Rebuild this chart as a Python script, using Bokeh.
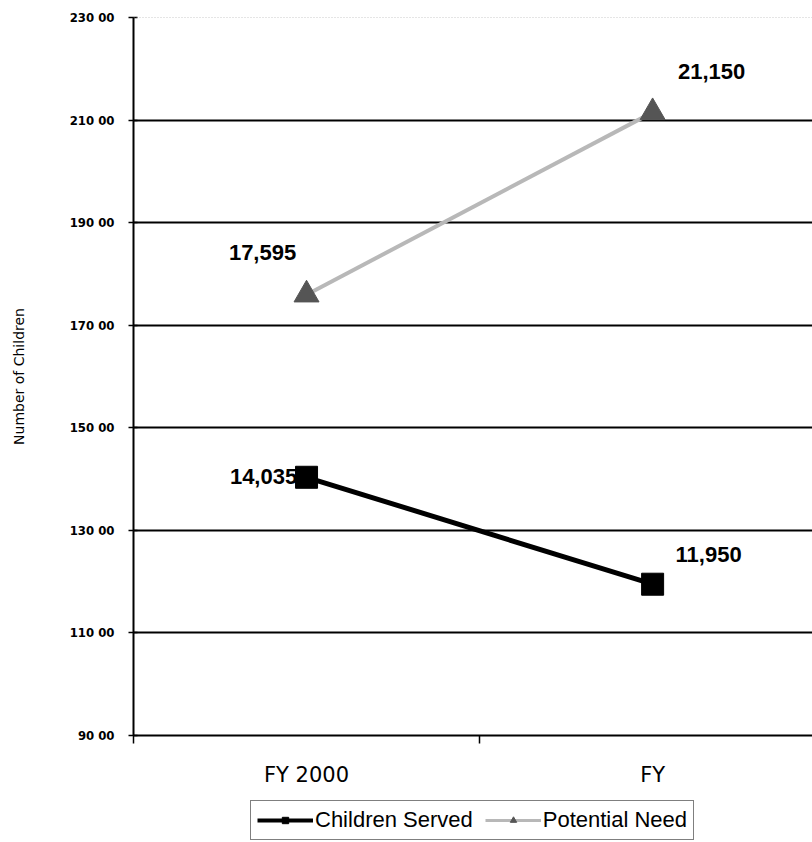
from bokeh.plotting import figure
from bokeh.models import Range1d, FixedTicker, Legend, LegendItem, ColumnDataSource, Span
from bokeh.layouts import column
from bokeh.embed import file_html
from bokeh.resources import INLINE
from bokeh.core.properties import value

# ---- data ----
categories = ["FY 2000", "FY"]
series_names = ["Children Served", "Potential Need"]
children_served = [14035, 11950]
potential_need = [17595, 21150]
children_labels = ["14,035", "11,950"]
need_labels = ["17,595", "21,150"]
y_ticks = [9000, 11000, 13000, 15000, 17000, 19000, 21000, 23000]
y_tick_labels = ["90 00", "110 00", "130 00", "150 00", "170 00", "190 00", "210 00", "230 00"]

x_pos = [i + 0.5 for i in range(len(categories))]

NARROW = "'Liberation Sans Narrow', 'DejaVu Sans Condensed', 'Liberation Sans', sans-serif"

p = figure(width=812, height=790, output_backend="svg", toolbar_location=None,
           x_range=Range1d(0, 1.962), y_range=Range1d(9000, 23000),
           min_border_left=133, min_border_right=0, min_border_top=17, min_border_bottom=55)
p.background_fill_color = "white"
p.border_fill_color = "white"
p.outline_line_color = None

# grid
p.xgrid.visible = False
p.ygrid.ticker = FixedTicker(ticks=y_ticks[1:-1])
p.ygrid.grid_line_color = "black"
p.ygrid.grid_line_width = 2
p.add_layout(Span(location=y_ticks[-1], dimension="width", line_color="#999999",
                  line_dash="1 2", line_width=1))

# y axis
p.yaxis.ticker = FixedTicker(ticks=y_ticks)
p.yaxis.major_label_overrides = {t: l for t, l in zip(y_ticks, y_tick_labels)}
p.yaxis.major_tick_in = 4
p.yaxis.major_tick_out = 5
p.yaxis.minor_tick_line_color = None
p.yaxis.axis_line_color = "black"
p.yaxis.axis_line_width = 2
p.yaxis.major_tick_line_width = 1.5
p.yaxis.major_label_text_font = NARROW
p.yaxis.major_label_text_font_size = "13px"
p.yaxis.major_label_text_font_style = "bold"
p.yaxis.major_label_text_color = "black"
p.yaxis.major_label_standoff = 14
p.yaxis.axis_label = "Number of Children"
p.yaxis.axis_label_text_font = "'DejaVu Sans', sans-serif"
p.yaxis.axis_label_text_font_size = "14px"
p.yaxis.axis_label_text_font_style = "normal"
p.yaxis.axis_label_text_color = "black"
p.yaxis.axis_label_standoff = 40

# x axis
p.xaxis.ticker = FixedTicker(ticks=x_pos, minor_ticks=[0, 1, 2])
p.xaxis.major_label_overrides = {x: c for x, c in zip(x_pos, categories)}
p.xaxis.major_tick_in = 0
p.xaxis.major_tick_out = 0
p.xaxis.minor_tick_in = 0
p.xaxis.minor_tick_out = 8
p.xaxis.minor_tick_line_color = "black"
p.xaxis.minor_tick_line_width = 1.5
p.xaxis.axis_line_color = "black"
p.xaxis.axis_line_width = 2
p.xaxis.major_label_text_font = "'DejaVu Sans', sans-serif"
p.xaxis.major_label_text_font_size = "21px"
p.xaxis.major_label_text_color = "black"
p.xaxis.major_label_standoff = 19

# data labels (drawn under the markers, as in the original)
src_c = ColumnDataSource(dict(x=x_pos, y=children_served, t=children_labels,
                              dx=[-43, 56], dy=[-1, -30]))
src_n = ColumnDataSource(dict(x=x_pos, y=potential_need, t=need_labels,
                              dx=[-44, 59], dy=[-42, -41]))
for src in (src_c, src_n):
    p.text(x="x", y="y", text="t", x_offset="dx", y_offset="dy", source=src,
           text_font=value("Liberation Sans"), text_font_style="bold",
           text_font_size="22px", text_color="black",
           text_align="center", text_baseline="middle")

# series
CS_COLOR, PN_LINE, PN_MARK = "black", "#b8b8b8", "#555555"
p.line(x_pos, children_served, line_color=CS_COLOR, line_width=5)
p.scatter(x_pos, children_served, marker="square", size=22,
          fill_color=CS_COLOR, line_color=CS_COLOR)
p.line(x_pos, potential_need, line_color=PN_LINE, line_width=4)
p.scatter(x_pos, potential_need, marker="triangle", size=25,
          fill_color=PN_MARK, line_color=PN_MARK)

# ---- legend strip below the chart (its renderers' data fall outside its ranges) ----
lg = figure(width=812, height=52, output_backend="svg", toolbar_location=None,
            x_range=Range1d(-1, -0.5), y_range=Range1d(-1, -0.5),
            min_border_left=0, min_border_right=0, min_border_top=0, min_border_bottom=0)
lg.axis.visible = False
lg.grid.visible = False
lg.outline_line_color = None
lg.background_fill_color = "white"
lg.border_fill_color = "white"
r1 = lg.line(x_pos, children_served, line_color=CS_COLOR, line_width=4)
m1 = lg.scatter(x_pos, children_served, marker="square", size=10,
                fill_color=CS_COLOR, line_color=CS_COLOR)
r2 = lg.line(x_pos, potential_need, line_color=PN_LINE, line_width=3)
m2 = lg.scatter(x_pos, potential_need, marker="triangle", size=11,
                fill_color=PN_MARK, line_color=PN_MARK)

legend = Legend(items=[LegendItem(label=series_names[0], renderers=[r1, m1]),
                       LegendItem(label=series_names[1], renderers=[r2, m2])],
                orientation="horizontal", location=(117, 2))
legend.border_line_color = "black"
legend.border_line_width = 1.5
legend.background_fill_color = "white"
legend.label_text_font = "'Liberation Sans', sans-serif"
legend.label_text_font_size = "22px"
legend.label_text_color = "black"
legend.glyph_width = 56
legend.glyph_height = 16
legend.label_standoff = 2
legend.spacing = 12
legend.padding = 6
legend.margin = 0
legend.label_height = 17
lg.add_layout(legend, "center")

layout = column(p, lg, spacing=0)
open("out.html", "w").write(file_html(layout, INLINE))
